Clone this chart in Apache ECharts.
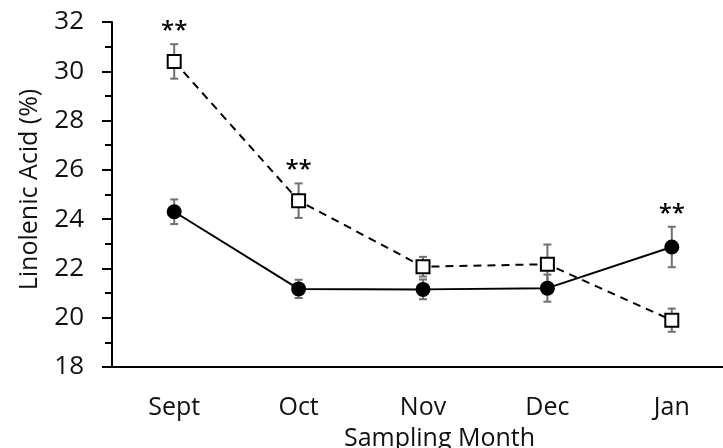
<html>
<head>
<meta charset="utf-8">
<script src="https://cdn.jsdelivr.net/npm/echarts@6/dist/echarts.min.js"></script>
<style>
  body { margin: 0; background: #fff; }
  #main { width: 723px; height: 448px; }
</style>
</head>
<body>
<div id="main"></div>
<script>
// sampling months and means / error half-widths
var months = ['Sept', 'Oct', 'Nov', 'Dec', 'Jan'];
var filledMean = [24.3, 21.17, 21.15, 21.2, 22.87];
var filledErr = [0.5, 0.37, 0.4, 0.55, 0.82];
var openMean = [30.4, 24.75, 22.07, 22.17, 19.9];
var openErr = [0.7, 0.7, 0.4, 0.8, 0.47];
var sigLabels = ['**', '**', '', '', '**'];

var font = 'Open Sans';
var chart = echarts.init(document.getElementById('main'));

function errorBars() {
    return function (params, api) {
        var i = api.value(0);
        var top = api.coord([i, api.value(1)]);
        var bot = api.coord([i, api.value(2)]);
        var cap = 4;
        var st = { stroke: '#707070', lineWidth: 2 };
        return {
            type: 'group',
            children: [
                { type: 'line', shape: { x1: top[0], y1: top[1], x2: bot[0], y2: bot[1] }, style: st },
                { type: 'line', shape: { x1: top[0] - cap, y1: top[1], x2: top[0] + cap, y2: top[1] }, style: st },
                { type: 'line', shape: { x1: bot[0] - cap, y1: bot[1], x2: bot[0] + cap, y2: bot[1] }, style: st }
            ]
        };
    };
}

function barData(mean, err) {
    return mean.map(function (m, i) { return [i, m + err[i], m - err[i]]; });
}

var sigData = sigLabels.map(function (s, i) {
    return [i, Math.max(filledMean[i] + filledErr[i], openMean[i] + openErr[i]), s];
});

chart.setOption({
    animation: false,
    grid: { left: 112, top: 22, width: 622, height: 345, outerBoundsMode: 'none', containLabel: false },
    xAxis: {
        type: 'category',
        data: months,
        boundaryGap: true,
        axisLine: { lineStyle: { color: '#000', width: 2 } },
        axisTick: { alignWithLabel: true, length: 8, lineStyle: { color: '#000', width: 2 } },
        axisLabel: { color: '#111', fontFamily: font, fontSize: 25, margin: 28 },
        name: 'Sampling Month',
        nameLocation: 'middle',
        nameGap: 59,
        nameMoveOverlap: false,
        nameTextStyle: { color: '#111', fontFamily: font, fontSize: 25, padding: [0, 0, 0, 33] }
    },
    yAxis: {
        type: 'value',
        min: 18,
        max: 32,
        interval: 2,
        splitLine: { show: false },
        axisLine: { show: true, lineStyle: { color: '#000', width: 2 } },
        axisTick: { show: true, length: 10, lineStyle: { color: '#000', width: 2 } },
        minorTick: { show: true, splitNumber: 2, length: 7, lineStyle: { color: '#000', width: 2 } },
        axisLabel: { color: '#111', fontFamily: font, fontSize: 26, margin: 28 },
        name: 'Linolenic Acid (%)',
        nameLocation: 'middle',
        nameGap: 70,
        nameTextStyle: { color: '#111', fontFamily: font, fontSize: 25, padding: [0, 0, 0, 10] }
    },
    series: [
        {
            type: 'custom',
            renderItem: errorBars(),
            data: barData(openMean, openErr),
            z: 1
        },
        {
            type: 'custom',
            renderItem: errorBars(),
            data: barData(filledMean, filledErr),
            z: 1
        },
        {
            name: 'open',
            type: 'line',
            data: openMean,
            symbol: 'rect',
            symbolSize: 13,
            lineStyle: { color: '#000', width: 2, type: [8, 6] },
            itemStyle: { color: '#fff', borderColor: '#000', borderWidth: 2 },
            z: 3
        },
        {
            name: 'filled',
            type: 'line',
            data: filledMean,
            symbol: 'circle',
            symbolSize: 15,
            showAllSymbol: true,
            lineStyle: { color: '#000', width: 2 },
            itemStyle: { color: '#000' },
            z: 3
        },
        {
            type: 'custom',
            data: sigData,
            renderItem: function (params, api) {
                var s = sigData[params.dataIndex][2];
                if (!s) return null;
                var p = api.coord([api.value(0), api.value(1)]);
                return {
                    type: 'text',
                    style: {
                        x: p[0], y: p[1] - 1, text: s,
                        align: 'center', verticalAlign: 'bottom',
                        font: '600 24px "Open Sans"', fill: '#000'
                    }
                };
            },
            z: 4
        }
    ]
});
</script>
</body>
</html>
